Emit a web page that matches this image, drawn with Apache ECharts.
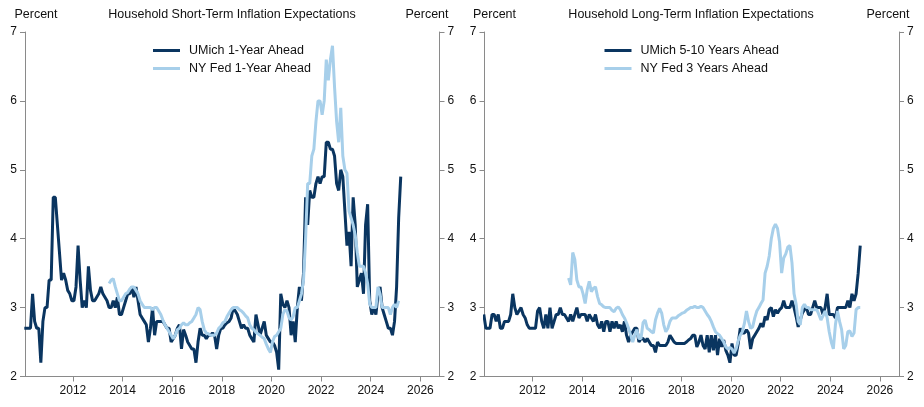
<!DOCTYPE html>
<html><head><meta charset="utf-8">
<script src="https://cdn.jsdelivr.net/npm/echarts@6/dist/echarts.min.js"></script>
<style>html,body{margin:0;padding:0;background:#fff}#c{width:924px;height:407px}</style>
</head><body><div id="c"></div><script>
// ---- data (monthly) ----
const umich1yStart = [2010, 1];
const umich1y = [
  2.7, 2.7, 2.7, 2.7, 3.2, 2.8, 2.7, 2.7, 2.2, 2.8, 3.0, 3.0,
  3.4, 3.4, 4.6, 4.6, 4.2, 3.8, 3.4, 3.5, 3.4, 3.25, 3.2, 3.1,
  3.1, 3.3, 3.9, 3.4, 3.0, 3.1, 3.0, 3.6, 3.25, 3.1, 3.1, 3.15,
  3.2, 3.3, 3.2, 3.15, 3.1, 3.0, 3.0, 3.1, 3.0, 3.15, 2.9, 2.9,
  3.0, 3.1, 3.2, 3.2, 3.3, 3.15, 3.3, 3.1, 2.9, 2.85, 2.8, 2.75,
  2.5, 2.7, 3.0, 2.6, 2.8, 2.8, 2.8, 2.8, 2.75, 2.7, 2.7, 2.5,
  2.55, 2.6, 2.7, 2.75, 2.4, 2.68, 2.6, 2.5, 2.45, 2.4, 2.4, 2.2,
  2.5, 2.7, 2.6, 2.6, 2.55, 2.6, 2.6, 2.63, 2.6, 2.4, 2.6, 2.7,
  2.7, 2.75, 2.78, 2.8, 2.85, 3.0, 2.95, 2.9, 2.8, 2.7, 2.75, 2.7,
  2.7, 2.6, 2.55, 2.5, 2.9, 2.75, 2.6, 2.7, 2.8, 2.6, 2.55, 2.5,
  2.5, 2.45, 2.35, 2.1, 3.2, 3.05, 3.0, 3.1, 3.0, 2.6, 2.8, 2.5,
  3.0, 3.3, 3.1, 3.5, 4.6, 4.2, 4.7, 4.6, 4.6, 4.8, 4.9, 4.8,
  4.9, 4.9, 5.4, 5.4, 5.3, 5.3, 5.2, 4.8, 4.7, 5.0, 4.9, 4.4,
  3.9, 4.1, 3.6, 4.6, 4.2, 3.3, 3.4, 3.5, 3.2, 4.2, 4.5, 3.1,
  2.9, 3.0, 2.9, 3.2, 3.3, 3.0, 2.9, 2.8, 2.7, 2.7, 2.6, 2.8,
  3.3, 4.3, 4.9
];
const nyfed1yStart = [2013, 6];
const nyfed1y = [
  3.35, 3.4, 3.42, 3.3, 3.2, 3.1, 3.1,
  3.15, 3.2, 3.22, 3.27, 3.3, 3.3, 3.25, 3.2, 3.1, 3.05, 3.0, 3.0,
  3.0, 3.0, 2.97, 3.0, 3.0, 2.95, 2.9, 2.82, 2.75, 2.7, 2.65, 2.6,
  2.55, 2.6, 2.68, 2.7, 2.75, 2.78, 2.75, 2.75, 2.78, 2.8, 2.85, 2.9,
  3.0, 2.97, 2.8, 2.68, 2.63, 2.62, 2.6, 2.6, 2.6, 2.63, 2.7, 2.73,
  2.78, 2.8, 2.87, 2.92, 2.97, 3.0, 3.0, 3.0, 2.97, 2.95, 2.92, 2.88,
  2.85, 2.75, 2.7, 2.68, 2.64, 2.62, 2.6, 2.57, 2.55, 2.47, 2.4, 2.35,
  2.5, 2.58, 2.6, 2.65, 2.7, 2.9, 2.97, 2.95, 2.85, 2.82, 2.87, 3.0,
  3.0, 3.1, 3.2, 3.4, 4.0, 4.8, 4.8, 5.2, 5.3, 5.7, 6.0, 6.0,
  5.8, 6.0, 6.6, 6.3, 6.6, 6.8, 6.2, 5.7, 5.4, 5.9, 5.2, 5.0,
  4.95, 4.4, 4.3, 4.2, 4.05, 3.8, 3.6, 3.6, 3.6, 3.5, 3.35, 3.05,
  3.0, 3.0, 3.0, 3.3, 3.2, 3.0, 3.0, 3.0, 3.0, 2.9, 3.0, 3.05,
  3.0, 3.1
];
const umich5yStart = [2010, 1];
const umich5y = [
  2.9, 2.7, 2.7, 2.7, 2.9, 2.9, 2.8, 2.9, 2.7, 2.7, 2.8, 2.8,
  2.8, 2.9, 3.2, 3.0, 2.9, 2.95, 3.0, 2.9, 2.85, 2.75, 2.7, 2.7,
  2.7, 2.7, 2.95, 3.0, 2.8, 2.7, 2.9, 2.7, 3.0, 2.7, 2.8, 2.9,
  2.9, 3.0, 2.9, 2.9, 2.85, 2.8, 2.9, 2.8, 2.9, 3.0, 2.85, 2.9,
  2.9, 2.9, 2.8, 2.9, 2.85, 2.8, 2.9, 2.75, 2.7, 2.8, 2.65, 2.8,
  2.8, 2.65, 2.8, 2.7, 2.8, 2.7, 2.75, 2.65, 2.8, 2.6, 2.5, 2.6,
  2.65, 2.7, 2.7, 2.5, 2.55, 2.55, 2.5, 2.55, 2.5, 2.45, 2.45, 2.35,
  2.5, 2.45, 2.45, 2.45, 2.45, 2.5, 2.6, 2.55, 2.5, 2.48, 2.48, 2.48,
  2.48, 2.48, 2.5, 2.53, 2.55, 2.6, 2.6, 2.43, 2.5, 2.6, 2.45, 2.4,
  2.6, 2.35, 2.6, 2.38, 2.6, 2.31, 2.55, 2.43, 2.53, 2.38, 2.31, 2.2,
  2.48, 2.31, 2.31, 2.48, 2.7, 2.63, 2.63, 2.68, 2.63, 2.4, 2.55, 2.6,
  2.65, 2.7, 2.77, 2.72, 2.87, 2.82, 2.97, 3.0, 2.87, 2.97, 2.92, 2.97,
  3.0, 3.1, 3.0, 3.0, 3.0, 3.1, 3.0, 2.87, 2.72, 2.82, 2.92, 2.97,
  3.0, 2.9, 2.9, 3.0, 3.1, 3.0, 3.0, 3.0, 2.9, 3.0, 3.2, 2.9,
  2.9, 2.9, 2.85, 3.0, 3.0, 3.0, 3.0, 3.0, 3.1, 3.0, 3.2, 3.1,
  3.2, 3.5, 3.9
];
const nyfed3yStart = [2013, 6];
const nyfed3y = [
  3.43, 3.33, 3.8, 3.7, 3.4, 3.3, 3.3,
  3.2, 3.06, 3.26, 3.38, 3.23, 3.28, 3.3, 3.16, 3.06, 3.04, 3.01, 3.0,
  3.0, 3.0, 2.96, 2.94, 2.99, 3.01, 2.97, 2.9, 2.85, 2.78, 2.7, 2.6,
  2.5, 2.6, 2.68, 2.55, 2.55, 2.78, 2.82, 2.7, 2.68, 2.65, 2.63, 2.82,
  2.92, 2.99, 2.92, 2.75, 2.65, 2.7, 2.8, 2.85, 2.85, 2.85, 2.88, 2.9,
  2.92, 2.93, 2.96, 2.98, 3.0, 3.0, 3.02, 3.0, 3.0, 3.02, 3.0, 2.95,
  2.9, 2.86, 2.8, 2.72, 2.65, 2.62, 2.6, 2.55, 2.5, 2.43, 2.4, 2.42,
  2.4, 2.34, 2.4, 2.52, 2.6, 2.65, 2.77, 2.95, 2.8, 2.7, 2.72, 2.85,
  2.95, 3.0, 3.06, 3.11, 3.5, 3.6, 3.75, 4.0, 4.15, 4.21, 4.15, 3.95,
  3.5, 3.72, 3.78, 3.88, 3.9, 3.65, 3.2, 3.05, 2.8, 2.75, 3.0, 3.05,
  3.0, 3.0, 2.97, 2.97, 2.97, 2.97, 2.9, 2.82, 2.88, 2.95, 2.85, 2.65,
  2.5, 2.4, 2.75, 2.95, 2.8, 2.68, 2.4, 2.45, 2.65, 2.66, 2.58, 2.63,
  2.97, 3.0, 3.0
];
const xTickYears = [2012, 2014, 2016, 2018, 2020, 2022, 2024, 2026];
const panelTitles = ['Household Short-Term Inflation Expectations', 'Household Long-Term Inflation Expectations'];
const unitLabel = 'Percent';
const seriesNames = ['UMich 1-Year Ahead', 'NY Fed 1-Year Ahead', 'UMich 5-10 Years Ahead', 'NY Fed 3 Years Ahead'];

// ---- helpers ----
function toPoints(start, vals) {
  return vals.map(function (v, k) {
    const m = start[1] - 1 + k;
    return [start[0] + (m + 0.5) / 12, v];
  });
}
const FONT = "'Liberation Sans', Arial, sans-serif";
const TXT = '#111';
const AX = '#8a8a8a';
const DARK = '#0a3560';
const LIGHT = '#a7cfea';

function xAxisFor(gi) {
  return {
    type: 'value', gridIndex: gi, min: 2010.07, max: 2026.77,
    axisLine: { show: true, onZero: false, lineStyle: { color: AX, width: 1 } },
    axisTick: { show: true, length: 5, customValues: xTickYears, lineStyle: { color: AX } },
    axisLabel: { customValues: xTickYears, margin: 8, fontSize: 12, color: TXT, fontFamily: FONT,
      formatter: function (v) { return String(Math.round(v)); } },
    splitLine: { show: false }
  };
}
function yAxisFor(gi, pos) {
  return {
    type: 'value', gridIndex: gi, position: pos, min: 2, max: 7, interval: 1,
    axisLine: { show: true, lineStyle: { color: AX, width: 1 } },
    axisTick: { show: true, length: 5, lineStyle: { color: AX } },
    axisLabel: { margin: 8, fontSize: 12, color: TXT, fontFamily: FONT },
    splitLine: { show: false }
  };
}
function lineSeries(name, data, xi, yi, color) {
  return {
    name: name, type: 'line', xAxisIndex: xi, yAxisIndex: yi, data: data,
    showSymbol: false, symbol: 'none', color: color,
    lineStyle: { width: 3, color: color }, itemStyle: { color: color },
    emphasis: { disabled: true }, animation: false
  };
}
function label(text, x, y) {
  return { type: 'text', x: x, y: y, style: { text: text, fontSize: 12.5, fontFamily: FONT, fill: TXT,
    textAlign: 'center', textVerticalAlign: 'middle' } };
}
function legendFor(names, left) {
  return {
    data: names, left: left, top: 44, padding: 0, orient: 'vertical', icon: 'rect',
    itemWidth: 27, itemHeight: 3, itemGap: 5,
    textStyle: { fontSize: 12.5, color: TXT, fontFamily: FONT, padding: [0, 0, 0, 4] }
  };
}

const chart = echarts.init(document.getElementById('c'), null, { renderer: 'canvas' });
chart.setOption({
  animation: false,
  backgroundColor: '#fff',
  grid: [
    { left: 25, right: 484.5, top: 32, bottom: 30.5 },
    { left: 484.5, right: 25, top: 32, bottom: 30.5 }
  ],
  xAxis: [xAxisFor(0), xAxisFor(1)],
  yAxis: [yAxisFor(0, 'left'), yAxisFor(0, 'right'), yAxisFor(1, 'left'), yAxisFor(1, 'right')],
  legend: [legendFor([seriesNames[0], seriesNames[1]], 153), legendFor([seriesNames[2], seriesNames[3]], 604.5)],
  series: [
    lineSeries(seriesNames[0], toPoints(umich1yStart, umich1y), 0, 0, DARK),
    lineSeries(seriesNames[1], toPoints(nyfed1yStart, nyfed1y), 0, 0, LIGHT),
    lineSeries(seriesNames[2], toPoints(umich5yStart, umich5y), 1, 2, DARK),
    lineSeries(seriesNames[3], toPoints(nyfed3yStart, nyfed3y), 1, 2, LIGHT)
  ],
  graphic: [
    label(unitLabel, 36, 15), label(panelTitles[0], 232, 15), label(unitLabel, 427, 15),
    label(unitLabel, 494.5, 15), label(panelTitles[1], 691, 15), label(unitLabel, 888, 15)
  ]
});
</script></body></html>
